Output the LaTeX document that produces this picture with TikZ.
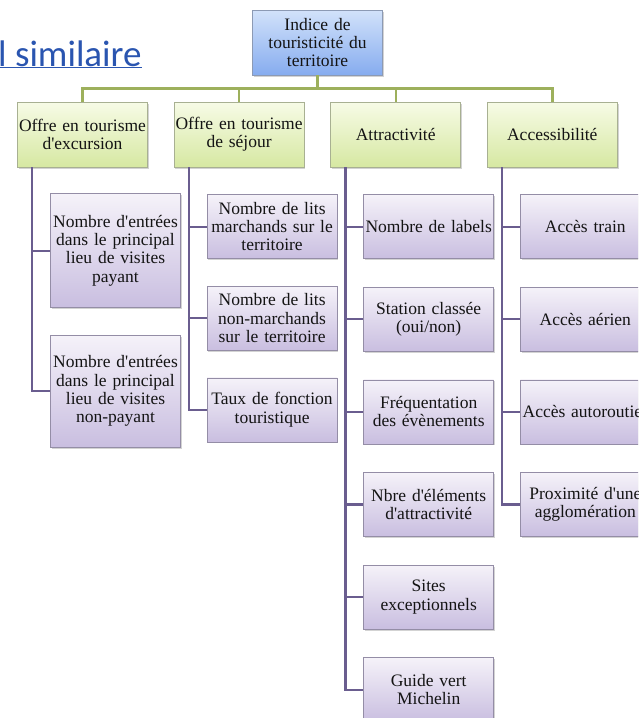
\documentclass[tikz,border=0pt]{standalone}
\usepackage{fontspec}
\setmainfont{Liberation Serif}
\newfontfamily\boxfont{Liberation Serif}
\newfontfamily\linkfont{Carlito}
\usetikzlibrary{positioning, shadows}

\definecolor{rootTop}{HTML}{D2E2FA}
\definecolor{rootBot}{HTML}{86ACEF}
\definecolor{rootLine}{HTML}{8C9AB4}
\definecolor{themeTop}{HTML}{F7FBE6}
\definecolor{themeBot}{HTML}{D6E8A2}
\definecolor{themeLine}{HTML}{A8B092}
\definecolor{itemTop}{HTML}{F5F2F9}
\definecolor{itemBot}{HTML}{C9BEE0}
\definecolor{itemLine}{HTML}{948DA6}
\definecolor{barGreen}{HTML}{9DB05C}
\definecolor{barPurple}{HTML}{6A5D8F}
\definecolor{linkBlue}{HTML}{2A55B0}

\begin{document}
\begin{tikzpicture}[
    common/.style={rectangle,
        line width=0.6pt,
        text width=128pt,
        inner xsep=1pt,
        inner ysep=2pt,
        minimum height=64pt,
        align=center,
        text=black!92,
        font=\boxfont\fontsize{17.5}{18.3}\selectfont,
        drop shadow={shadow xshift=1.3pt, shadow yshift=-1.6pt, opacity=0.35}},
    root/.style={common, draw=rootLine, top color=rootTop, bottom color=rootBot, minimum height=65pt},
    theme/.style={common, draw=themeLine, top color=themeTop, bottom color=themeBot, minimum height=65pt},
    item/.style={common, draw=itemLine, top color=itemTop, bottom color=itemBot},
    greenbar/.style={draw=barGreen, line width=2.4pt},
    purplebar/.style={draw=barPurple, line width=2.2pt}]

    \useasboundingbox (0pt,0pt) rectangle (638pt,-718pt);
    \clip (0pt,0pt) rectangle (638pt,-718pt);

    % Link text
        \node[anchor=base west,
              inner sep=0pt,
              text=linkBlue,
              font=\linkfont\fontsize{37}{37}\selectfont] (lnk) at (-2pt,-66pt) {\underline{l similaire}};

    % Add the top and the themes
        \node[root] (r0) at (317.5pt,-42.5pt) {Indice de\\touristicité du\\territoire};
        \node[theme] (t1) at (82.5pt,-134.5pt) {Offre en tourisme\\d'excursion};
        \node[theme, right=26pt of t1] (t2) {Offre en tourisme\\de séjour};
        \node[theme, right=26pt of t2] (t3) {Attractivité};
        \node[theme, right=26pt of t3] (t4) {Accessibilité};

    % Offre en tourisme d'excursion
        \node[item, minimum height=114pt,
              below=26pt of t1.south west, anchor=north west, xshift=33pt] (p1)
              {Nombre d'entrées\\dans le principal\\lieu de visites\\payant};
        \node[item, minimum height=112pt, below=27pt of p1] (p2)
              {Nombre d'entrées\\dans le principal\\lieu de visites\\non-payant};

    % Offre en tourisme de sejour
        \node[item, below=27pt of t2.south west, anchor=north west, xshift=33pt] (s1)
              {Nombre de lits\\marchands sur le\\territoire};
        \node[item, below=27pt of s1] (s2) {Nombre de lits\\non-marchands\\sur le territoire};
        \node[item, below=27pt of s2] (s3) {Taux de fonction\\touristique};

    % Attractivite
        \node[item, below=27pt of t3.south west, anchor=north west, xshift=33pt] (a1) {Nombre de labels};
        \node[item, below=28pt of a1] (a2) {Station classée\\(oui/non)};
        \node[item, below=28pt of a2] (a3) {Fréquentation\\des évènements};
        \node[item, below=28pt of a3] (a4) {Nbre d'éléments\\d'attractivité};
        \node[item, below=28pt of a4] (a5) {Sites\\exceptionnels};
        \node[item, below=28pt of a5] (a6) {Guide vert\\Michelin};

    % Accessibilite
        \node[item, below=27pt of t4.south west, anchor=north west, xshift=33pt] (c1) {Accès train};
        \node[item, below=28pt of c1] (c2) {Accès aérien};
        \node[item, below=28pt of c2] (c3) {Accès autoroutier};
        \node[item, below=28pt of c3] (c4) {Proximité d'une\\agglomération};

    % Connectors
        \coordinate (bar) at ([yshift=-13pt]r0.south);
        \draw[greenbar]
            (r0.south) -- (bar)
            (bar) -| (t1.north)
            (bar) -| (t2.north)
            (bar) -| (t3.north)
            (bar) -| (t4.north);

        \draw[purplebar]
            ([xshift=15pt]t1.south west) |- (p1.west)
            ([xshift=15pt]t1.south west) |- (p2.west)
            ([xshift=15pt]t2.south west) |- (s1.west)
            ([xshift=15pt]t2.south west) |- (s2.west)
            ([xshift=15pt]t2.south west) |- (s3.west)
            ([xshift=15pt]t3.south west) |- (a1.west)
            ([xshift=15pt]t3.south west) |- (a2.west)
            ([xshift=15pt]t3.south west) |- (a3.west)
            ([xshift=15pt]t3.south west) |- (a4.west)
            ([xshift=15pt]t3.south west) |- (a5.west)
            ([xshift=15pt]t3.south west) |- (a6.west)
            ([xshift=15pt]t4.south west) |- (c1.west)
            ([xshift=15pt]t4.south west) |- (c2.west)
            ([xshift=15pt]t4.south west) |- (c3.west)
            ([xshift=15pt]t4.south west) |- (c4.west);
\end{tikzpicture}
\end{document}
